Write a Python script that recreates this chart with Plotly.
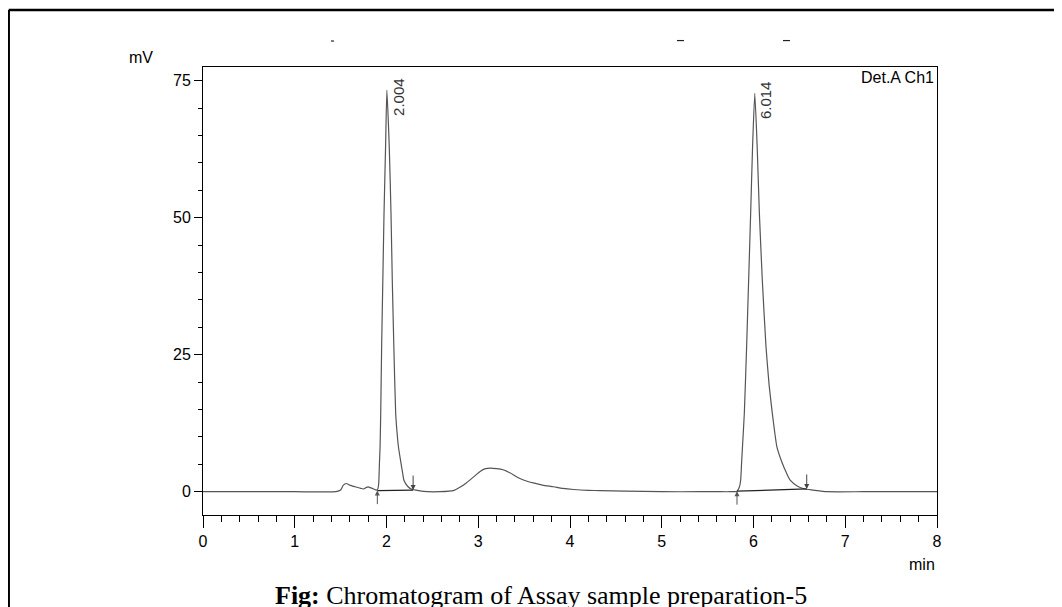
import plotly.graph_objects as go

# chromatogram trace (min, mV)
czas = [0.0, 0.5, 1.0, 1.45, 1.50, 1.53, 1.56, 1.60, 1.66, 1.72, 1.75, 1.78, 1.80, 1.83, 1.86, 1.89,
        1.905, 1.915, 1.923, 1.93, 1.937, 1.947, 1.96, 1.973, 1.99, 2.004, 2.03, 2.049, 2.063, 2.08,
        2.10, 2.115, 2.13, 2.158, 2.175, 2.19, 2.23, 2.27, 2.35, 2.45, 2.58, 2.73, 2.80, 2.87, 2.95,
        3.02, 3.08, 3.13, 3.20, 3.27, 3.35, 3.42, 3.50, 3.60, 3.70, 3.82, 3.92, 4.04, 4.20, 4.33,
        4.6, 5.0, 5.42, 5.60, 5.75, 5.82, 5.845, 5.86, 5.87, 5.88, 5.90, 5.925, 5.947, 5.969, 5.99,
        6.014, 6.04, 6.064, 6.096, 6.136, 6.17, 6.205, 6.23, 6.255, 6.314, 6.36, 6.40, 6.48, 6.56,
        6.65, 6.80, 7.2, 7.6, 8.0]
sygnal = [0.0, 0.0, 0.0, 0.0, 0.3, 1.2, 1.5, 1.2, 0.9, 0.6, 0.5, 0.8, 0.9, 0.7, 0.5, 0.3,
          0.5, 1.5, 5.2, 8.2, 14.3, 26.5, 38.6, 50.8, 63.0, 73.3, 63.0, 50.8, 38.6, 26.5,
          14.3, 10.8, 8.2, 5.2, 3.5, 2.1, 1.0, 0.5, 0.2, 0.0, 0.0, 0.2, 0.8, 1.6, 2.7,
          3.7, 4.2, 4.3, 4.2, 4.0, 3.4, 2.7, 2.1, 1.6, 1.2, 0.9, 0.6, 0.4, 0.25, 0.2,
          0.1, 0.0, 0.0, 0.0, 0.0, 0.1, 0.8, 2.1, 5.2, 8.2, 14.3, 26.5, 38.6, 50.8, 63.0,
          72.7, 63.0, 50.8, 38.6, 26.5, 19.5, 14.3, 11.0, 8.2, 5.2, 3.4, 2.1, 1.0, 0.5,
          0.3, 0.0, 0.0, 0.0, 0.0]

# peaks: retention time label and apex height
piki_czas = [2.004, 6.014]
piki_wys = [73.3, 72.7]
piki_etykiety = ['2.004', '6.014']

# integration baselines (start / end of each peak)
bl_start_t = [1.90, 5.82]
bl_start_v = [0.2, 0.1]
bl_end_t = [2.29, 6.58]
bl_end_v = [0.3, 0.5]

x_ticks = [0, 1, 2, 3, 4, 5, 6, 7, 8]
y_ticks = [0, 25, 50, 75]

fig = go.Figure()
fig.add_trace(go.Scatter(x=czas, y=sygnal, mode='lines',
                         line=dict(color='#555555', width=1.2, shape='spline', smoothing=0.5),
                         showlegend=False))
for i in range(len(bl_start_t)):
    fig.add_trace(go.Scatter(x=[bl_start_t[i], bl_end_t[i]], y=[bl_start_v[i], bl_end_v[i]],
                             mode='lines', line=dict(color='#222222', width=1.2), showlegend=False))

# peak labels
for t, v, txt in zip(piki_czas, piki_wys, piki_etykiety):
    fig.add_annotation(x=t, y=v, text=txt, showarrow=False, textangle=-90,
                       xanchor='center', yanchor='middle', xshift=11, yshift=-7,
                       font=dict(family='Liberation Sans, Arial', size=15, color='#333333'))

# start / end arrows
for t, v in zip(bl_start_t, bl_start_v):
    fig.add_annotation(x=t, y=v, text='', showarrow=True, ax=0, ay=15, arrowhead=2,
                       arrowsize=1, arrowwidth=1, arrowcolor='#555555', standoff=0)
for t, v in zip(bl_end_t, bl_end_v):
    fig.add_annotation(x=t, y=v, text='', showarrow=True, ax=0, ay=-16, arrowhead=2,
                       arrowsize=1, arrowwidth=1, arrowcolor='#444444', standoff=0)

sans = 'Liberation Sans, Arial, sans-serif'

fig.add_annotation(xref='paper', yref='paper', x=-0.085, y=1.021, text='mV', showarrow=False,
                   xanchor='center', yanchor='middle', font=dict(family=sans, size=16, color='black'))
fig.add_annotation(xref='paper', yref='paper', x=0.999, y=1.0, text='Det.A Ch1', showarrow=False,
                   xanchor='right', yanchor='top', font=dict(family=sans, size=16, color='black'))
fig.add_annotation(xref='paper', yref='paper', x=1.0, y=-0.088, text='min', showarrow=False,
                   xanchor='right', yanchor='top', font=dict(family=sans, size=16, color='black'))
fig.add_annotation(xref='paper', yref='paper', x=0.46, y=-0.142,
                   text='<b>Fig:</b> Chromatogram of Assay sample preparation-5', showarrow=False,
                   xanchor='center', yanchor='top',
                   font=dict(family='Liberation Serif, Times New Roman, serif', size=26, color='black'))

# page frame and clipped marks at the top
fig.add_shape(type='line', xref='paper', yref='paper', x0=-0.2647, x1=1.2, y0=1.1272, y1=1.1272,
              line=dict(color='black', width=2.5))
fig.add_shape(type='line', xref='paper', yref='paper', x0=-0.2647, x1=-0.2647, y0=-0.3, y1=1.1272,
              line=dict(color='black', width=2.5))
for xs, ys, dl in [(0.1744, 1.058, 0.004), (0.6458, 1.059, 0.0095), (0.7902, 1.059, 0.0095)]:
    fig.add_shape(type='line', xref='paper', yref='paper', x0=xs, x1=xs + dl, y0=ys, y1=ys,
                  line=dict(color='#222222', width=1.2))

fig.update_xaxes(range=[0, 8], tickvals=x_ticks, ticktext=[str(v) for v in x_ticks],
                 ticks='outside', ticklen=12, tickwidth=1, tickcolor='black',
                 minor=dict(dtick=0.2, ticks='outside', ticklen=6, tickcolor='black', tickwidth=1),
                 showline=True, linecolor='black', linewidth=1, mirror=True,
                 showgrid=False, zeroline=False,
                 tickfont=dict(family=sans, size=16, color='black'))
fig.update_yaxes(range=[-4.25, 77.5], tickvals=y_ticks, ticktext=[str(v) for v in y_ticks],
                 ticks='outside', ticklen=8, tickwidth=1, tickcolor='black',
                 minor=dict(dtick=5, ticks='outside', ticklen=4, tickcolor='black', tickwidth=1),
                 showline=True, linecolor='black', linewidth=1, mirror=True,
                 showgrid=False, zeroline=False,
                 tickfont=dict(family=sans, size=16, color='black'))

# page body adds 8px, so margins are shifted by that
fig.update_layout(width=1062, height=607, plot_bgcolor='white', paper_bgcolor='white',
                  margin=dict(l=195, r=133, t=59, b=100), showlegend=False)

fig.write_html("out.html")
